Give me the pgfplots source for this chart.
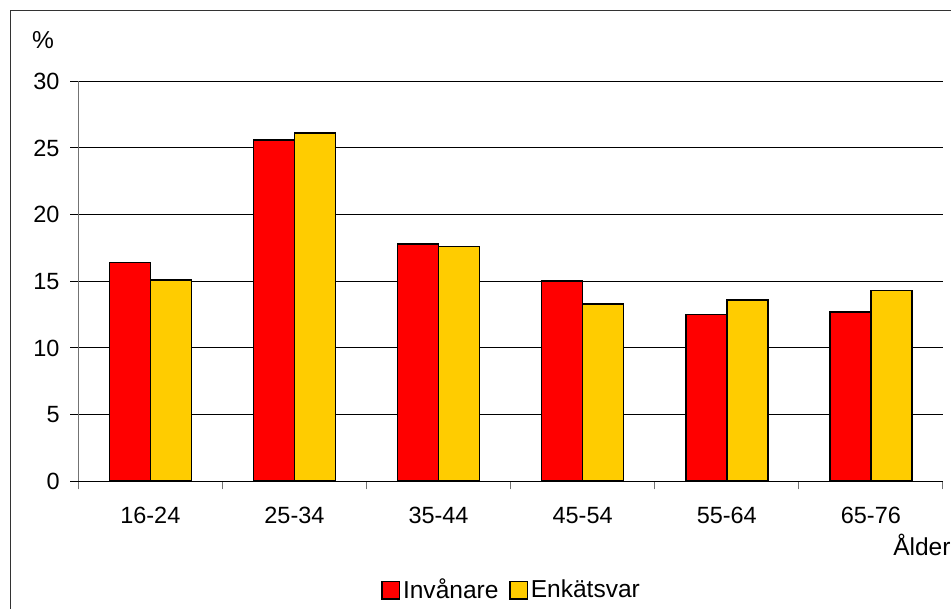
\documentclass[border=0pt]{standalone}
\usepackage{fontspec}
\setmainfont{Liberation Sans}
\usepackage{pgfplots}
\pgfplotsset{compat=1.18}
\definecolor{invred}{HTML}{FF0000}
\definecolor{enkyel}{HTML}{FFCC00}
\newcommand{\chartfont}{\fontsize{17.6}{20}\selectfont}
\begin{document}
\begin{tikzpicture}[x=0.75pt,y=0.75pt]
\useasboundingbox (0,0) rectangle (951,609);
% outer frame (cut at right and bottom)
\draw[line width=1.1pt, black!80] (10.7,-5) -- (10.7,598.3) -- (960,598.3);
\begin{axis}[
    at={(58.7pt,95.8pt)}, anchor=south west,
    scale only axis, width=648.5pt, height=300pt,
    ybar=0pt, bar width=30.75pt,
    ymin=0, ymax=30, ytick={0,5,...,30},
    xmin=-0.5, xmax=5.5,
    xtick={-0.5,0.5,1.5,2.5,3.5,4.5,5.5},
    x tick label as interval,
    xticklabels={16-24,25-34,35-44,45-54,55-64,65-76},
    axis lines*=left,
    x axis line style={black, line width=0.75pt},
    y axis line style={black!55, line width=0.75pt},
    tick align=outside, major tick length=6pt,
    xtick style={black!55, line width=0.75pt},
    ytick style={black, line width=0.75pt},
    ymajorgrids, major grid style={black, line width=0.75pt},
    /pgf/number format/assume math mode=true,
    tick label style={font=\chartfont},
    xticklabel style={yshift=-10pt},
    yticklabel style={xshift=-4.5pt},
    legend style={at={(axis description cs:0.5016,-0.272)}, anchor=center,
        draw=none, font=\fontsize{18.4}{20}\selectfont, legend columns=-1,
        /tikz/every even column/.append style={column sep=6pt}},
    legend image code/.code={\draw[#1, line width=1.2pt] (0pt,-6.5pt) rectangle (13pt,6.5pt);},
]
\addplot[fill=invred, draw=black, line width=1.2pt] coordinates {
    (0,16.4) (1,25.6) (2,17.8) (3,15.0) (4,12.5) (5,12.7)
};
\addlegendentry{Invånare}
\addplot[fill=enkyel, draw=black, line width=1.2pt] coordinates {
    (0,15.1) (1,26.1) (2,17.6) (3,13.3) (4,13.6) (5,14.3)
};
\addlegendentry{Enkätsvar}
\end{axis}
\node[font=\fontsize{18.4}{20}\selectfont] at (43,569) {\%};
\node[font=\fontsize{18.4}{20}\selectfont, anchor=west, inner sep=0pt] at (893,64) {Ålder};
\end{tikzpicture}
\end{document}
